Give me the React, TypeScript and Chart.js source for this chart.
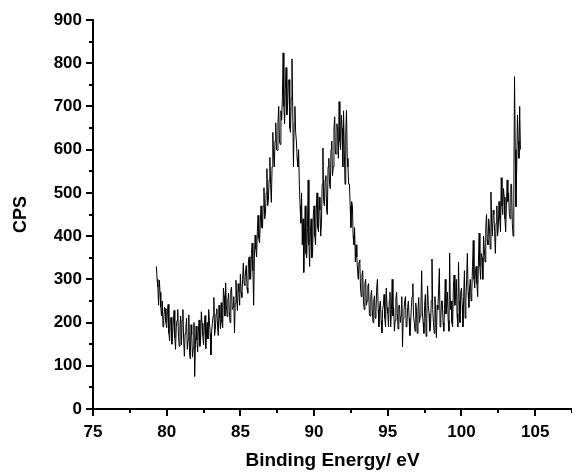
import React, { useEffect, useRef } from 'react';
import { Chart, registerables } from 'chart.js';

Chart.register(...registerables);

// Binding energy grid of the spectrum (eV)
const E_START = 79.3;
const E_STEP = 0.05;

// Counts per second, one array per eV
const cps79 = [330, 300, 282, 240, 298, 270, 236, 215, 250, 190, 205, 235, 232, 200];
const cps80 = [188, 225, 242, 175, 158, 210, 212, 150, 172, 200, 228, 165, 138, 190, 205, 230, 168, 145, 196, 215];
const cps81 = [148, 205, 230, 160, 122, 175, 188, 210, 138, 160, 218, 130, 116, 195, 172, 120, 142, 200, 75, 150];
const cps82 = [192, 160, 132, 180, 206, 145, 158, 225, 198, 170, 148, 190, 216, 140, 178, 200, 162, 230, 204, 175];
const cps83 = [125, 180, 198, 215, 258, 170, 184, 220, 232, 190, 170, 240, 212, 185, 246, 200, 188, 280, 262, 215];
const cps84 = [292, 240, 214, 250, 268, 225, 200, 275, 282, 230, 236, 260, 176, 245, 298, 255, 228, 290, 272, 240];
const cps85 = [312, 270, 258, 300, 338, 290, 286, 320, 332, 280, 268, 345, 352, 300, 302, 360, 384, 320, 240, 350];
const cps86 = [402, 370, 352, 410, 448, 395, 384, 430, 470, 420, 418, 470, 512, 440, 452, 500, 556, 470, 482, 530];
const cps87 = [582, 520, 478, 560, 640, 590, 560, 620, 662, 600, 598, 660, 700, 620, 612, 690, 668, 720, 824, 700];
const cps88 = [660, 740, 790, 680, 700, 760, 762, 650, 640, 720, 810, 700, 560, 660, 700, 640, 620, 580, 560, 600];
const cps89 = [520, 470, 430, 500, 380, 440, 316, 400, 470, 360, 350, 420, 530, 380, 330, 410, 440, 350, 360, 450];
const cps90 = [470, 400, 380, 460, 500, 420, 410, 490, 460, 400, 430, 520, 604, 480, 470, 530, 540, 460, 450, 560];
const cps91 = [580, 520, 510, 600, 620, 540, 560, 650, 676, 590, 590, 660, 640, 580, 711, 620, 600, 680, 650, 560];
const cps92 = [690, 600, 520, 640, 691, 580, 560, 520, 520, 470, 420, 480, 470, 400, 380, 420, 340, 380, 352, 320];
const cps93 = [300, 340, 345, 280, 260, 310, 320, 250, 230, 290, 300, 240, 250, 285, 290, 220, 215, 260, 275, 230];
const cps94 = [200, 250, 262, 210, 225, 280, 300, 230, 190, 240, 250, 205, 176, 230, 240, 265, 210, 190, 280, 235];
const cps95 = [222, 190, 250, 270, 190, 230, 300, 215, 235, 180, 205, 255, 270, 220, 185, 240, 240, 200, 215, 260];
const cps96 = [144, 210, 228, 250, 260, 190, 195, 235, 250, 210, 170, 200, 235, 260, 290, 215, 200, 180, 245, 225];
const cps97 = [175, 230, 258, 200, 215, 240, 320, 220, 200, 175, 240, 265, 168, 210, 285, 240, 220, 180, 190, 250];
const cps98 = [347, 230, 200, 175, 260, 220, 165, 240, 230, 275, 325, 190, 210, 250, 250, 200, 180, 230, 300, 220];
const cps99 = [240, 270, 205, 180, 361, 230, 250, 200, 190, 280, 310, 240, 260, 300, 220, 190, 340, 250, 200, 270];
const cps100 = [280, 240, 190, 260, 320, 210, 250, 300, 360, 270, 235, 280, 300, 250, 270, 330, 390, 300, 280, 320];
const cps101 = [330, 290, 260, 340, 407, 330, 300, 360, 350, 300, 400, 370, 340, 420, 450, 390, 380, 440, 420, 370];
const cps102 = [502, 430, 400, 460, 450, 410, 360, 430, 470, 400, 420, 480, 440, 410, 535, 470, 450, 510, 490, 440];
const cps103 = [410, 470, 530, 480, 500, 450, 440, 520, 520, 430, 400, 480, 769, 600, 468, 560, 680, 620, 580, 700];
const cps104 = [600];

const counts = [
  ...cps79, ...cps80, ...cps81, ...cps82, ...cps83, ...cps84, ...cps85,
  ...cps86, ...cps87, ...cps88, ...cps89, ...cps90, ...cps91, ...cps92,
  ...cps93, ...cps94, ...cps95, ...cps96, ...cps97, ...cps98, ...cps99,
  ...cps100, ...cps101, ...cps102, ...cps103, ...cps104,
];

const X_MIN = 75;
const X_MAX = 107.5;
const X_STEP = 2.5;
const X_MAJOR = 5;
const Y_MIN = 0;
const Y_MAX = 900;
const Y_STEP = 50;
const Y_MAJOR = 100;

const X_TITLE = 'Binding Energy/ eV';
const Y_TITLE = 'CPS';

const FONT = '"Liberation Sans", Arial, Helvetica, sans-serif';

const tickMarks = {
  id: 'tickMarks',
  afterDraw(chart: any) {
    const ctx = chart.ctx;
    const area = chart.chartArea;
    const xs = chart.scales.x;
    const ys = chart.scales.y;
    ctx.save();
    ctx.strokeStyle = '#000';
    ctx.lineWidth = 2;
    ctx.beginPath();
    xs.ticks.forEach((t: any) => {
      const px = Math.round(xs.getPixelForValue(t.value));
      const major = Math.abs(t.value % X_MAJOR) < 1e-6;
      ctx.moveTo(px, area.bottom);
      ctx.lineTo(px, area.bottom + (major ? 7 : 4));
    });
    ys.ticks.forEach((t: any) => {
      const py = Math.round(ys.getPixelForValue(t.value));
      const major = Math.abs(t.value % Y_MAJOR) < 1e-6;
      ctx.moveTo(area.left, py);
      ctx.lineTo(area.left - (major ? 7 : 4), py);
    });
    ctx.stroke();
    ctx.restore();
  },
};

export default function App() {
  const ref = useRef<HTMLCanvasElement | null>(null);

  useEffect(() => {
    if (!ref.current) return;
    const points = counts.map((c, i) => ({
      x: Math.round((E_START + i * E_STEP) * 1000) / 1000,
      y: c,
    }));
    const chart = new Chart(ref.current, {
      type: 'line',
      data: {
        datasets: [
          {
            data: points,
            borderColor: '#000',
            borderWidth: 1,
            pointRadius: 0,
            tension: 0,
            fill: false,
          },
        ],
      },
      options: {
        animation: false,
        responsive: false,
        devicePixelRatio: 1,
        layout: { padding: { top: 20, right: 0, left: 10, bottom: 0 } },
        plugins: {
          legend: { display: false },
          tooltip: { enabled: false },
        },
        scales: {
          x: {
            type: 'linear',
            min: X_MIN,
            max: X_MAX,
            afterFit: (s: any) => {
              s.height = 63;
              s.paddingRight = 0;
              s.paddingLeft = 0;
            },
            afterBuildTicks: (s: any) => {
              const t = [];
              for (let v = X_MIN; v <= X_MAX + 1e-6; v += X_STEP) t.push({ value: v });
              s.ticks = t;
            },
            ticks: {
              autoSkip: false,
              maxRotation: 0,
              padding: 6,
              color: '#000',
              font: { family: FONT, size: 17, weight: 'bold' },
              callback: (v: any) => (Math.abs(v % X_MAJOR) < 1e-6 ? String(v) : ''),
            },
            grid: {
              display: true,
              drawOnChartArea: false,
              drawTicks: true,
              tickLength: 7,
              tickColor: 'rgba(0,0,0,0)',
            },
            border: { display: true, color: '#000', width: 2 },
            title: {
              display: true,
              text: X_TITLE,
              color: '#000',
              font: { family: FONT, size: 19, weight: 'bold' },
              padding: { top: 2, bottom: 0 },
            },
          },
          y: {
            type: 'linear',
            min: Y_MIN,
            max: Y_MAX,
            afterFit: (s: any) => {
              s.width = 83;
            },
            afterBuildTicks: (s: any) => {
              const t = [];
              for (let v = Y_MIN; v <= Y_MAX + 1e-6; v += Y_STEP) t.push({ value: v });
              s.ticks = t;
            },
            ticks: {
              autoSkip: false,
              padding: 4,
              color: '#000',
              font: { family: FONT, size: 17, weight: 'bold' },
              callback: (v: any) => (Math.abs(v % Y_MAJOR) < 1e-6 ? String(v) : ''),
            },
            grid: {
              display: true,
              drawOnChartArea: false,
              drawTicks: true,
              tickLength: 7,
              tickColor: 'rgba(0,0,0,0)',
            },
            border: { display: true, color: '#000', width: 2 },
            title: {
              display: true,
              text: Y_TITLE,
              color: '#000',
              font: { family: FONT, size: 18, weight: 'bold' },
              padding: { top: 0, bottom: 0 },
            },
          },
        },
      },
      plugins: [tickMarks],
    } as any);
    return () => chart.destroy();
  }, []);

  return (
    <div style={{ position: 'absolute', left: 0, top: 0, width: 572, height: 472, background: '#fff' }}>
      <canvas ref={ref} width={572} height={472} style={{ display: 'block' }} />
    </div>
  );
}
